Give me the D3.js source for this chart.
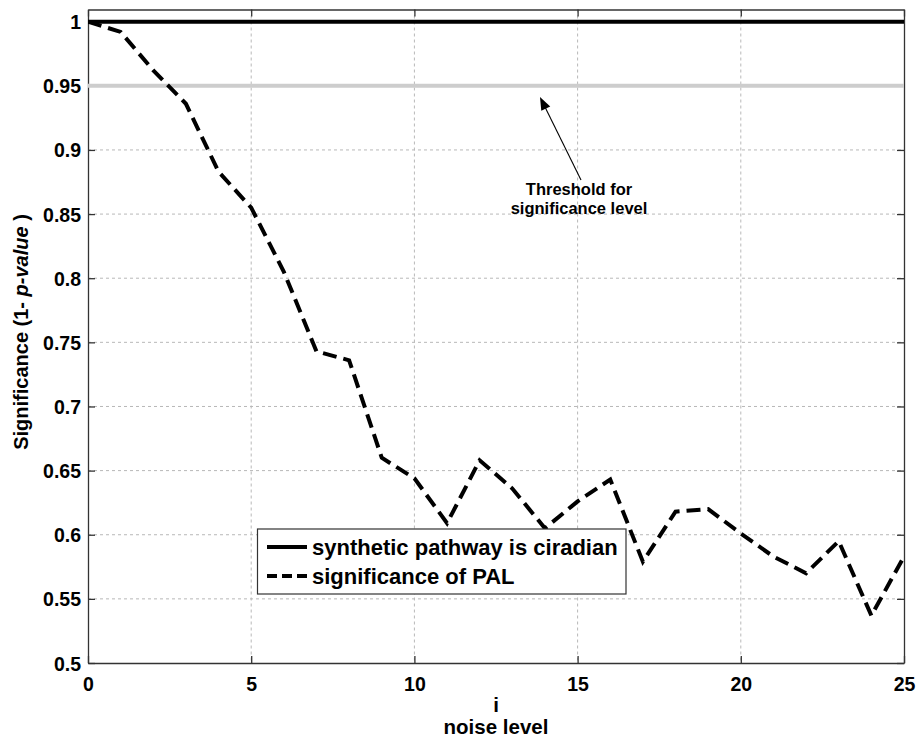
<!DOCTYPE html>
<html>
<head>
<meta charset="utf-8">
<script src="https://cdn.jsdelivr.net/npm/d3@7"></script>
<style>
  body { margin: 0; background: #fff; }
  text { font-family: "Liberation Sans", Arial, Helvetica, sans-serif; font-weight: bold; fill: #000; }
</style>
</head>
<body>
<svg id="chart" width="919" height="740"></svg>
<script>
// Noise levels and PAL significance (1 - p-value)
const noiseLevels = [0,1,2,3,4,5,6,7,8,9,10,11,12,13,14,15,16,17,18,19,20,21,22,23,24,25];
const palSignificance = [1.000,0.992,0.962,0.936,0.883,0.855,0.805,0.743,0.736,0.660,0.644,
  0.609,0.658,0.636,0.605,0.626,0.643,0.579,0.618,0.620,0.601,0.583,0.570,0.595,0.537,0.583];
const circadianLevel = 1.0;
const thresholdLevel = 0.95;
const xTicks = [0,5,10,15,20,25];
const yTicks = [0.5,0.55,0.6,0.65,0.7,0.75,0.8,0.85,0.9,0.95,1];
const legendLabels = ["synthetic pathway is ciradian", "significance of PAL"];

const svg = d3.select("#chart");
const plotL = 88, plotR = 904, plotT = 9.5, plotB = 663;

const x = d3.scaleLinear().domain([0, 25]).range([plotL, plotR]);
const y = d3.scaleLinear().domain([0.5, 1.0095]).range([plotB, plotT]);

// grid
const grid = svg.append("g").attr("stroke", "#b8b8b8").attr("stroke-width", 1).attr("stroke-dasharray", "3,3");
xTicks.slice(1, -1).forEach(t => grid.append("line").attr("x1", x(t)).attr("x2", x(t)).attr("y1", plotT).attr("y2", plotB));
yTicks.slice(1).forEach(t => grid.append("line").attr("x1", plotL).attr("x2", plotR).attr("y1", y(t)).attr("y2", y(t)));

// axes (box with inward ticks on all sides)
const fmt = d => String(+d.toFixed(2));
const axB = svg.append("g").attr("transform", `translate(0,${plotB})`)
  .call(d3.axisBottom(x).tickValues(xTicks).tickSizeInner(-7).tickSizeOuter(0).tickPadding(14).tickFormat(fmt));
const axT = svg.append("g").attr("transform", `translate(0,${plotT})`)
  .call(d3.axisTop(x).tickValues(xTicks).tickSizeInner(-7).tickSizeOuter(0).tickFormat(""));
const axL = svg.append("g").attr("transform", `translate(${plotL},0)`)
  .call(d3.axisLeft(y).tickValues(yTicks).tickSizeInner(-7).tickSizeOuter(0).tickPadding(7).tickFormat(fmt));
const axR = svg.append("g").attr("transform", `translate(${plotR},0)`)
  .call(d3.axisRight(y).tickValues(yTicks).tickSizeInner(-7).tickSizeOuter(0).tickFormat(""));
[axB, axT, axL, axR].forEach(a => {
  a.select(".domain").attr("stroke", "#333").attr("stroke-width", 1.3);
  a.selectAll(".tick line").attr("stroke", "#333").attr("stroke-width", 1.3);
  a.selectAll("text").attr("font-size", 19.5).attr("font-family", null).attr("fill", "#000");
});
axB.selectAll("text").attr("dy", "0.71em");
axL.selectAll("text").attr("dy", "0.36em");

svg.append("defs").append("clipPath").attr("id", "plot")
  .append("rect").attr("x", plotL).attr("y", plotT).attr("width", plotR - plotL).attr("height", plotB - plotT);
const plot = svg.append("g").attr("clip-path", "url(#plot)");

// threshold line
plot.append("line").attr("x1", plotL).attr("x2", plotR).attr("y1", y(thresholdLevel)).attr("y2", y(thresholdLevel))
  .attr("stroke", "#cdcdcd").attr("stroke-width", 4);
// circadian line
plot.append("line").attr("x1", plotL).attr("x2", plotR).attr("y1", y(circadianLevel)).attr("y2", y(circadianLevel))
  .attr("stroke", "#000").attr("stroke-width", 4);
// PAL significance
const line = d3.line().x((d, i) => x(noiseLevels[i])).y(d => y(d));
plot.append("path").datum(palSignificance).attr("d", line)
  .attr("fill", "none").attr("stroke", "#000").attr("stroke-width", 4)
  .attr("stroke-dasharray", "14,7").attr("stroke-linejoin", "miter");

// annotation
const ann = svg.append("g");
ann.append("text").attr("x", 579).attr("y", 195).attr("text-anchor", "middle").attr("font-size", 16.5).text("Threshold for");
ann.append("text").attr("x", 579).attr("y", 214).attr("text-anchor", "middle").attr("font-size", 16.5).text("significance level");
const ax0 = 581, ay0 = 180, ax1 = 540, ay1 = 97;
ann.append("line").attr("x1", ax0).attr("y1", ay0).attr("x2", ax1 + 4).attr("y2", ay1 + 8)
  .attr("stroke", "#000").attr("stroke-width", 1.1);
const ang = Math.atan2(ay1 - ay0, ax1 - ax0);
const hl = 13, hw = 5;
const bx = ax1 - hl * Math.cos(ang), by = ay1 - hl * Math.sin(ang);
ann.append("path").attr("d", `M${ax1},${ay1} L${bx + hw * Math.sin(ang)},${by - hw * Math.cos(ang)} L${bx - hw * Math.sin(ang)},${by + hw * Math.cos(ang)} Z`)
  .attr("fill", "#000");

// legend
const lg = svg.append("g");
lg.append("rect").attr("x", 257.5).attr("y", 529).attr("width", 368.5).attr("height", 65)
  .attr("fill", "#fff").attr("stroke", "#333").attr("stroke-width", 1.2);
legendLabels.forEach((lab, i) => {
  const yy = 547 + i * 29;
  lg.append("line").attr("x1", 267).attr("x2", 307).attr("y1", yy).attr("y2", yy)
    .attr("stroke", "#000").attr("stroke-width", 4).attr("stroke-dasharray", i === 0 ? null : "10,5");
  lg.append("text").attr("x", 312).attr("y", yy + 8).attr("font-size", 22).text(lab);
});

// axis titles
svg.append("text").attr("x", x(12.5)).attr("y", 712).attr("text-anchor", "middle").attr("font-size", 20.5).text("i");
svg.append("text").attr("x", x(12.5)).attr("y", 734).attr("text-anchor", "middle").attr("font-size", 20.5).text("noise level");
const yl = svg.append("text").attr("transform", "translate(28,332) rotate(-90)").attr("text-anchor", "middle").attr("font-size", 20);
yl.append("tspan").text("Significance (1- ");
yl.append("tspan").attr("font-style", "italic").text("p-value");
yl.append("tspan").text(" )");
</script>
</body>
</html>
